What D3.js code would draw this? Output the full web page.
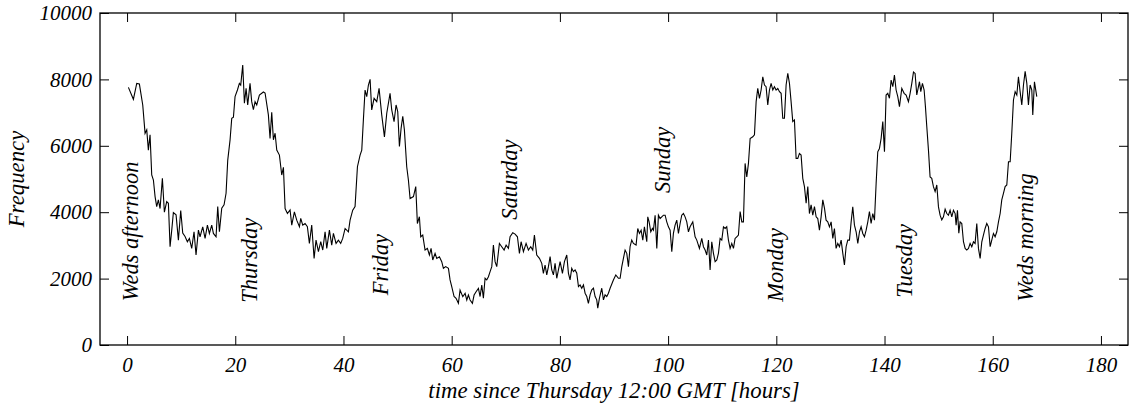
<!DOCTYPE html>
<html>
<head>
<meta charset="utf-8">
<script src="https://cdn.jsdelivr.net/npm/d3@7"></script>
<style>
  html, body { margin: 0; padding: 0; background: #fff; }
  svg { display: block; }
</style>
</head>
<body>
<svg id="chart" width="1136" height="406"></svg>
<script>
// Hourly traffic: time since Thursday 12:00 GMT (hours) and observed frequency
const hours = [
  0.25, 1.17, 1.79, 2.28, 2.90, 3.33, 3.64, 3.94, 4.25, 4.56, 4.87, 5.18, 5.48, 5.79, 6.10, 6.53, 6.90, 7.33, 7.64, 7.95,
  8.26, 8.56, 9.06, 9.49, 9.92, 10.29, 10.72, 11.15, 11.52, 11.95, 12.38, 12.75, 13.19, 13.49, 13.99, 14.42, 14.85, 15.22, 15.65, 15.96,
  16.45, 16.76, 17.07, 17.50, 17.93, 18.30, 18.61, 19.04, 19.35, 19.66, 19.96, 20.40, 20.76, 21.01, 21.38, 21.69, 22.00, 22.30, 22.73, 23.04,
  23.35, 23.66, 23.97, 24.46, 25.20, 25.51, 26.12, 26.43, 26.74, 27.05, 27.36, 27.67, 28.16, 28.59, 28.90, 29.21, 29.64, 30.13, 30.44, 30.93,
  31.36, 31.86,
  32.10, 32.47, 32.90, 33.33, 33.70, 34.13, 34.57, 34.93, 35.37, 35.80, 36.17, 36.60, 36.91, 37.40, 37.83, 38.14, 38.63, 39.06, 39.49, 39.86,
  40.30, 40.91, 41.22, 41.71, 42.14, 42.58, 43.07, 43.38, 43.68, 43.99, 44.30, 44.61, 44.92, 45.22, 45.66, 46.15, 46.58, 47.07, 47.57, 48.00,
  48.61, 48.92, 49.35, 49.72, 50.03, 50.34, 50.65, 50.96, 51.26, 51.69, 52.00, 52.31, 52.93, 53.36, 53.66, 54.03, 54.28, 54.65, 55.08, 55.51,
  55.88, 56.19, 56.50, 56.93, 57.24, 57.73, 58.16, 58.47, 58.90, 59.40, 59.70, 60.01, 60.44, 60.81, 61.24, 61.55, 62.05, 62.48, 62.79, 63.09,
  63.40, 63.83, 64.14, 64.51, 64.94, 65.25, 65.56, 65.86, 66.17, 66.48, 66.79, 67.10, 67.41, 67.71, 68.02, 68.33, 68.82,
  69.25, 69.69, 70.06, 70.49, 70.79, 71.29, 71.72, 72.15, 72.52, 72.83, 73.26, 73.75, 74.18, 74.61, 74.98, 75.29, 75.72, 76.22, 76.65, 76.95,
  77.26, 77.57, 77.88, 78.19, 78.50, 78.80, 79.11, 79.42, 79.73, 80.04, 80.47, 80.84, 81.27, 81.58, 81.88, 82.19, 82.50, 82.81, 83.12, 83.43,
  83.73, 84.04, 84.35, 84.66, 84.97, 85.27, 85.58, 85.89, 86.20, 86.51, 86.81, 87.00, 87.31, 87.74, 88.05, 88.35, 88.66, 88.97, 89.28, 89.89,
  90.33, 90.82, 91.13, 91.44, 91.74, 92.05, 92.36, 92.67, 92.97, 93.28, 93.59, 94.08, 94.39, 94.70, 95.01, 95.32, 95.62, 96.06, 96.24, 96.49,
  96.80, 97.10, 97.29, 97.60, 97.91, 98.21, 98.52, 98.83, 99.14, 99.45, 99.75, 100.06, 100.37, 100.68, 100.98, 101.29, 101.60, 101.91, 102.22, 102.52,
  102.83, 103.14, 103.45, 103.76, 104.06, 104.56, 104.99, 105.30, 105.79,
  106.22, 106.53, 106.84, 107.15, 107.46, 107.76, 108.07, 108.38, 108.69, 109.00, 109.30, 109.61, 109.92, 110.23, 110.54, 110.84, 111.15, 111.46, 111.77, 112.08,
  112.38, 112.69, 113.00, 113.31, 113.62, 113.92, 114.23, 114.54, 114.85, 115.16, 115.65, 115.96, 116.27, 116.57, 116.88, 117.19, 117.50, 117.81, 118.11, 118.42,
  118.73, 119.04, 119.35, 119.65, 119.96, 120.27, 120.58, 120.89, 121.19, 121.50, 121.81, 122.12, 122.43, 122.73, 123.04, 123.35, 123.66, 123.97, 124.27, 124.58,
  124.89, 125.20, 125.51, 125.82, 126.12, 126.43, 126.74, 127.05, 127.36, 127.66, 127.97, 128.28, 128.59, 128.90, 129.20, 129.51, 129.82, 130.13, 130.44, 130.74,
  131.05, 131.36, 131.67, 131.98, 132.29, 132.59, 132.90, 133.21, 133.52, 133.83, 134.13, 134.44, 134.75, 135.06, 135.37, 135.67, 135.98, 136.29, 136.60, 136.91,
  137.21, 137.52, 137.83, 138.14, 138.45, 138.75, 139.06, 139.37, 139.68, 139.99, 140.29, 140.60, 140.91, 141.22, 141.53, 141.83, 142.14, 142.45, 142.76,
  143.19, 143.62, 143.99, 144.42, 144.73, 145.04, 145.35, 145.65, 145.96, 146.27, 146.46, 146.70, 147.01, 147.32, 147.56, 147.81, 148.12, 148.42, 148.73, 149.04,
  149.35, 149.66, 149.97, 150.27, 150.58, 150.89, 151.20, 151.51, 151.81, 152.12, 152.43, 152.74, 153.05, 153.23, 153.48, 153.73, 153.97, 154.28, 154.59, 154.90,
  155.20, 155.51, 155.82, 156.13, 156.44, 156.74, 157.05, 157.36, 157.67, 157.98, 158.28, 158.59, 158.90, 159.21, 159.52, 159.82, 160.13, 160.44, 160.75, 161.06,
  161.37, 161.67, 161.98, 162.29, 162.60, 162.91, 163.22, 163.52, 163.83, 164.14, 164.45, 164.75, 165.06, 165.37, 165.68, 165.99, 166.30, 166.60, 166.91, 167.22,
  167.40, 167.71, 168.14
];

const freq = [
  7760, 7400, 7880, 7860, 7230, 6375, 6480, 5870, 6330, 5120, 4970, 4470, 4170, 4370, 4110, 5020, 4000, 4320, 4270, 2960,
  3460, 3990, 3920, 3160, 4050, 3370, 3270, 3110, 3210, 2910, 3410, 2710, 3460, 3260, 3560, 3210, 3610, 3360, 3610, 3360,
  3260, 4170, 3410, 4120, 4220, 4570, 5570, 6180, 6830, 6860, 7480, 7680, 7880, 7830, 8430, 7280, 7730, 7230, 7880, 7330,
  7090, 7330, 7230, 7530, 7620, 7590, 6930, 6220, 7010, 6180, 6380, 5870, 5720, 5120, 5350, 4110, 3960, 4070, 3610, 4010,
  3760, 3560,
  3815, 3610, 3660, 3565, 3060, 3610, 2610, 3160, 2810, 3115, 2860, 3410, 2910, 3460, 3010, 3360, 3060, 3160, 3060, 3210,
  3510, 3410, 3760, 4060, 4170, 5370, 5720, 5870, 6780, 7680, 7480, 7830, 8000, 7080, 7430, 7330, 7730, 6930, 6270, 6980,
  7580, 7080, 6730, 7230, 7030, 5980, 6525, 6890, 6480, 5370, 4970, 4410, 4470, 4770, 3660, 3865, 3260, 3310, 2860, 2910,
  2710, 2910, 2560, 2760, 2610, 2660, 2510, 2310, 2360, 2310, 1960, 1760, 1460, 1405, 1255, 1655, 1455, 1555, 1355, 1505,
  1355, 1255, 1505, 1605, 1705, 1460, 1807, 1410, 2010, 1960, 2058, 2209, 2360, 3010, 2510, 2360, 3060,
  2960, 2860, 3010, 2910, 3260, 3380, 3340, 3260, 2760, 3110, 2810, 3060, 2860, 2960, 2860, 3310, 2710, 2610, 2460, 2160,
  2410, 2110, 2360, 2660, 2260, 2110, 2460, 2010, 2260, 2510, 2160, 2510, 2710, 2160, 1960, 2310, 2210, 2260, 2160, 1760,
  1810, 1710, 1810, 1560, 1460, 1255, 1510, 1660, 1710, 1460, 1360, 1110, 1410, 1710, 1360, 1510, 1460, 1560, 1710, 1960,
  2110, 2010, 2010, 2360, 2610, 2860, 2760, 2360, 2960, 3160, 3060, 3010, 3510, 3360, 3460, 3160, 3560, 3110, 3860, 3710,
  3410, 3510, 3460, 3910, 2910, 3910, 3810, 3860, 3910, 3910, 3710, 3560, 3460, 2810, 3360, 3610, 3760, 3360, 3660, 3910,
  3960, 3860, 3710, 3410, 3560, 3710, 3260, 3160, 2910,
  3210, 2960, 2860, 2710, 3160, 2260, 3110, 2760, 2510, 2560, 2760, 3210, 3160, 3560, 3510, 3560, 3160, 2910, 3060, 2910,
  3210, 3260, 3310, 4020, 3710, 3710, 5470, 5060, 5470, 6220, 6270, 6330, 7330, 7730, 7430, 7680, 8080, 7830, 7780, 7230,
  7680, 7880, 7680, 7780, 7680, 7730, 7630, 7580, 6830, 6830, 7830, 8180, 7880, 7330, 6730, 6780, 5620, 5620, 5770, 5720,
  5020, 4770, 4270, 4770, 3960, 4220, 3910, 4170, 3860, 3810, 3460, 3860, 4370, 4120, 3760, 3710, 3560, 3710, 3210, 3510,
  2910, 3060, 2960, 3160, 2760, 2410, 2960, 3160, 3160, 3710, 4160, 3610, 3410, 3060, 3410, 3560, 3360, 3260, 3460, 3710,
  4020, 3660, 3960, 3760, 4870, 5820, 5920, 6220, 6730, 5820, 7530, 7580, 7430, 7980, 7780, 8130, 7680, 7480, 7180,
  7730, 7580, 7530, 7330, 7580, 7880, 8220, 8180, 7530, 7780, 7930, 7630, 7880, 7680, 7180, 6580, 5870, 5060, 5020, 4770,
  4620, 4820, 4160, 3910, 3770, 3860, 4090, 3960, 3910, 4060, 3860, 4060, 3960, 3610, 4060, 3370, 3710, 3660, 3110, 2910,
  2860, 2910, 3060, 2960, 3110, 3060, 3660, 2910, 2610, 3110, 3310, 3510, 3660, 3560, 2960, 3160, 3360, 3260, 3410, 3710,
  3960, 4370, 4570, 4770, 4820, 5520, 5520, 6380, 7380, 7630, 7530, 8080, 7630, 7230, 7830, 8240, 7880, 7230, 7830, 7680,
  6930, 7930, 7480
];

// Axis ticks
const xTicks = [0, 20, 40, 60, 80, 100, 120, 140, 160, 180];
const yTicks = [0, 2000, 4000, 6000, 8000, 10000];

// Day annotations, anchored in data units (hours, frequency)
const dayNames = ["Weds afternoon", "Thursday", "Friday", "Saturday", "Sunday", "Monday", "Tuesday", "Weds morning"];
const dayHours = [2.1, 24.0, 48.2, 72.1, 100.4, 121.2, 145.1, 167.5];
const dayFreq  = [1320, 1270, 1500, 3770, 4580, 1300, 1420, 1300];

const xTitle = "time since Thursday 12:00 GMT [hours]";
const yTitle = "Frequency";

const FONT = "'Liberation Serif', 'Times New Roman', serif";

const svg = d3.select("#chart");
const plot = { left: 100, right: 1128, top: 13, bottom: 345 };

const x = d3.scaleLinear().domain([-5, 185]).range([plot.left, plot.right]);
const y = d3.scaleLinear().domain([0, 10000]).range([plot.bottom, plot.top]);

const tickLen = 9;

// Serif italic text helper
function serif(sel, size) {
  return sel
    .style("font-family", FONT)
    .style("font-style", "italic")
    .style("font-size", size + "px")
    .style("fill", "#000");
}

// Bottom axis with labels, ticks pointing inward
const gx = svg.append("g")
  .attr("transform", `translate(0,${plot.bottom})`)
  .call(d3.axisBottom(x).tickValues(xTicks).tickSize(-tickLen).tickPadding(12).tickFormat(d3.format("d")));
// Top axis: ticks only
const gxTop = svg.append("g")
  .attr("transform", `translate(0,${plot.top})`)
  .call(d3.axisTop(x).tickValues(xTicks).tickSize(-tickLen).tickFormat(""));
// Left axis with labels
const gy = svg.append("g")
  .attr("transform", `translate(${plot.left},0)`)
  .call(d3.axisLeft(y).tickValues(yTicks).tickSize(-tickLen).tickPadding(8).tickFormat(d3.format("d")));
// Right axis: ticks only
const gyRight = svg.append("g")
  .attr("transform", `translate(${plot.right},0)`)
  .call(d3.axisRight(y).tickValues(yTicks).tickSize(-tickLen).tickFormat(""));

[gx, gxTop, gy, gyRight].forEach(g => {
  g.attr("font-family", null).attr("font-size", null);
  g.select(".domain").remove();
  g.selectAll(".tick line").attr("stroke", "#000").attr("stroke-width", 1);
  serif(g.selectAll(".tick text"), 21);
});

// Frame around the plotting area
svg.append("rect")
  .attr("x", plot.left)
  .attr("y", plot.top)
  .attr("width", plot.right - plot.left)
  .attr("height", plot.bottom - plot.top)
  .attr("fill", "none")
  .attr("stroke", "#000")
  .attr("stroke-width", 1.3);

// Frequency series
const series = hours.map((h, i) => ({ h, v: freq[i] }));
const line = d3.line().x(d => x(d.h)).y(d => y(d.v));
svg.append("path")
  .datum(series)
  .attr("d", line)
  .attr("fill", "none")
  .attr("stroke", "#000")
  .attr("stroke-width", 1.1)
  .attr("stroke-linejoin", "miter");

// Day labels, written vertically
serif(svg.append("g").selectAll("text")
  .data(dayNames)
  .join("text")
  .attr("transform", (d, i) => `translate(${x(dayHours[i])},${y(dayFreq[i])}) rotate(-90)`)
  .attr("text-anchor", "start")
  .text(d => d), 22.5);

// Axis titles
serif(svg.append("text")
  .attr("x", (plot.left + plot.right) / 2)
  .attr("y", 398)
  .attr("text-anchor", "middle")
  .text(xTitle), 22.8);

serif(svg.append("text")
  .attr("transform", `translate(24,${(plot.top + plot.bottom) / 2}) rotate(-90)`)
  .attr("text-anchor", "middle")
  .text(yTitle), 22.8);
</script>
</body>
</html>
